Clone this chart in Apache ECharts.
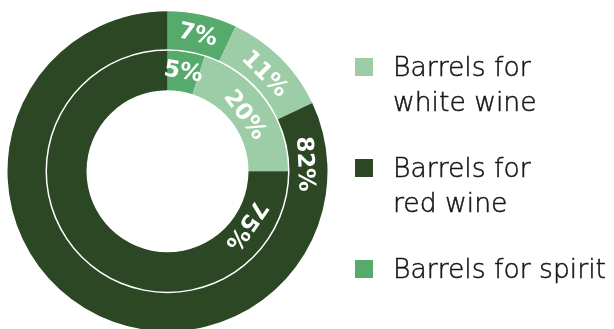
<!DOCTYPE html>
<html><head><meta charset="utf-8">
<script src="https://cdn.jsdelivr.net/npm/echarts@6/dist/echarts.min.js"></script>
<style>html,body{margin:0;padding:0;background:#fff}#c{width:614px;height:329px}</style>
</head><body><div id="c"></div>
<script>
// ---- data ----
const categories = ['Barrels for spirit', 'Barrels for white wine', 'Barrels for red wine'];
const outerValues = [7, 11, 82];
const innerValues = [5, 20, 75];
const legendOrder = ['Barrels for white wine', 'Barrels for red wine', 'Barrels for spirit'];
const legendText = {
  'Barrels for white wine': ['Barrels for', 'white wine'],
  'Barrels for red wine': ['Barrels for', 'red wine'],
  'Barrels for spirit': ['Barrels for spirit']
};

// ---- style ----
const colors = {'Barrels for spirit': '#56aa6b', 'Barrels for white wine': '#9ccda7', 'Barrels for red wine': '#2b4723'};
const CX = 167.5, CY = 171.2;
const LH = 35;
// label placement (angle clockwise from 12 o'clock; null => slice middle)
const outerLabelAngle = [null, null, 87];
const innerLabelAngle = [null, null, 124.5];
const outerLabelR = [139, 137, 137];
const innerLabelR = [100, 95, 95];

function makeLayout(values, angles, radii) {
  const total = values.reduce((a, b) => a + b, 0);
  return function (p) {
    const i = p.dataIndex;
    let before = 0;
    for (let k = 0; k < i; k++) before += values[k];
    const ang = angles[i] != null ? angles[i] : (before + values[i] / 2) / total * 360;
    const rad = ang * Math.PI / 180;
    return {
      x: CX + radii[i] * Math.sin(rad),
      y: CY - radii[i] * Math.cos(rad),
      rotate: -ang,
      align: 'center',
      verticalAlign: 'middle'
    };
  };
}

const labelStyle = {
  show: true, position: 'inside', formatter: '{c}%', color: '#ffffff',
  fontFamily: 'DejaVu Sans', fontWeight: 'bold', fontSize: 23
};

function toData(values) {
  return categories.map((c, i) => ({name: c, value: values[i], itemStyle: {color: colors[c]}}));
}

// legend text: blank line above (and below for single-line items) so the first line sits on the marker
function legendFormat(n) {
  const lines = [' '].concat(legendText[n]);
  if (legendText[n].length === 1) lines.push(' ');
  return lines.join('\n');
}

const chart = echarts.init(document.getElementById('c'), null, {renderer: 'canvas'});
chart.setOption({
  animation: false,
  legend: {
    orient: 'vertical', left: 355, top: 16.5, padding: 0, itemGap: -4,
    itemWidth: 18, itemHeight: 22,
    icon: 'path://M0,0L18,0L18,18L0,18Z M0,22',
    selectedMode: false,
    formatter: legendFormat,
    textStyle: {fontFamily: 'DejaVu Sans', fontWeight: 300, fontSize: 26.6, lineHeight: LH,
                color: '#161616', textBorderColor: '#161616', textBorderWidth: 0.5,
                padding: [0, 0, 0, 15]},
    data: legendOrder
  },
  series: [
    {
      type: 'pie', name: 'outer', center: [CX, CY], radius: [122, 160], startAngle: 90,
      silent: true, avoidLabelOverlap: false, label: labelStyle, labelLine: {show: false},
      labelLayout: makeLayout(outerValues, outerLabelAngle, outerLabelR),
      data: toData(outerValues)
    },
    {
      type: 'pie', name: 'inner', center: [CX, CY], radius: [81, 120.5], startAngle: 90,
      silent: true, avoidLabelOverlap: false, label: labelStyle, labelLine: {show: false},
      labelLayout: makeLayout(innerValues, innerLabelAngle, innerLabelR),
      data: toData(innerValues)
    }
  ]
});
</script></body></html>
